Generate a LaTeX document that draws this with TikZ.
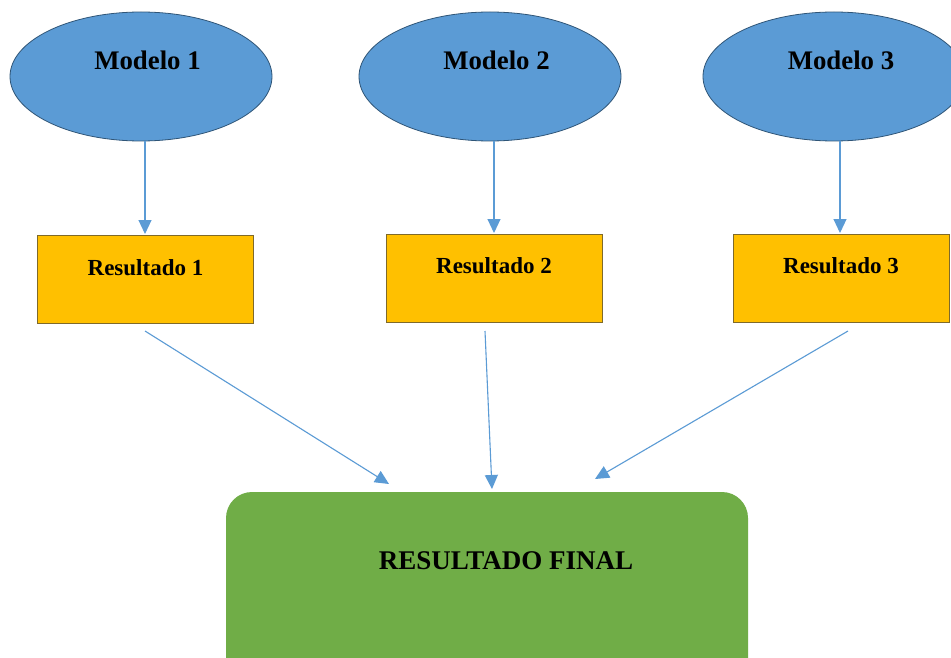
\documentclass[tikz,border=0pt]{standalone}
\usepackage{fontspec}
\setmainfont{Liberation Serif}
\usetikzlibrary{shapes.geometric,arrows.meta}
\definecolor{blueF}{HTML}{5B9BD5}
\definecolor{blueD}{HTML}{2F5577}
\definecolor{goldF}{HTML}{FFC000}
\definecolor{goldD}{HTML}{7F6A2A}
\definecolor{greenF}{HTML}{70AD47}
\tikzset{
  model/.style={ellipse, fill=blueF, draw=blueD, line width=0.8pt, minimum width=262pt, minimum height=129pt, inner sep=0pt},
  res/.style={rectangle, fill=goldF, draw=goldD, line width=1pt, minimum width=216pt, minimum height=88pt, inner sep=0pt},
  final/.style={rectangle, rounded corners=26pt, fill=greenF, minimum width=522pt, minimum height=200pt, inner sep=0pt},
  conn/.style={draw=blueF, line width=1.1pt, -{Triangle[length=14pt,width=13pt]}},
  mtext/.style={font=\fontsize{26.8}{28}\selectfont\bfseries},
  rtext/.style={font=\fontsize{23}{24}\selectfont\bfseries},
}
\begin{document}
\begin{tikzpicture}[x=1pt,y=-1pt]
\useasboundingbox (0,0) rectangle (951,658);
\clip (0,0) rectangle (951,658);
\fill[white] (0,0) rectangle (951,658);
% ellipses
\node[model] (m1) at (141,76.5) {};
\node[model] (m2) at (490,76.5) {};
\node[model] (m3) at (834,76.5) {};
\node[mtext] (t1) at (147.5,60) {Modelo 1};
\node[mtext] (t2) at (496.5,60) {Modelo 2};
\node[mtext] (t3) at (841,60) {Modelo 3};
% result boxes
\node[res] (r1) at (145,279) {};
\node[res] (r2) at (494,278) {};
\node[res] (r3) at (841.5,278) {};
\node[rtext] (rt1) at (145.5,268) {Resultado 1};
\node[rtext] (rt2) at (494,266) {Resultado 2};
\node[rtext] (rt3) at (841,266) {Resultado 3};
% final
\node[final] (f) at (487,592) {};
\node[font=\fontsize{27}{28}\selectfont\bfseries] (ft) at (506,561) {RESULTADO FINAL};
% coordinates
\coordinate (a1s) at (145,141);
\coordinate (a1e) at (145,234);
\coordinate (a2s) at (494,141);
\coordinate (a2e) at (494,233);
\coordinate (a3s) at (840,141);
\coordinate (a3e) at (840,233);
\coordinate (b1s) at (145,331);
\coordinate (b1e) at (389,484);
\coordinate (b2s) at (485,331);
\coordinate (b2e) at (492,489);
\coordinate (b3s) at (848,331);
\coordinate (b3e) at (595,479);
\draw[conn] (a1s) -- (a1e);
\draw[conn] (a2s) -- (a2e);
\draw[conn] (a3s) -- (a3e);
\draw[conn] (b1s) -- (b1e);
\draw[conn] (b2s) -- (b2e);
\draw[conn] (b3s) -- (b3e);
\end{tikzpicture}
\end{document}
